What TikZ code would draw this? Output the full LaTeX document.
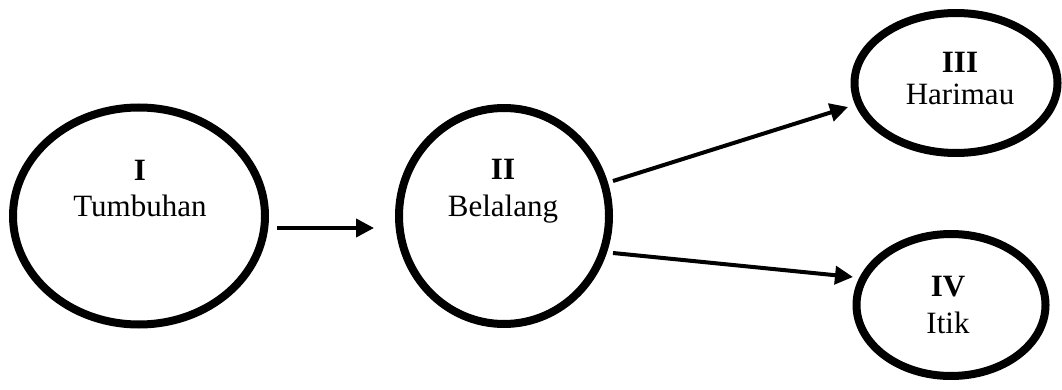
\documentclass[tikz,border=0pt]{standalone}
\usepackage{fontspec}
\setmainfont{Liberation Serif}
\usetikzlibrary{arrows.meta,shapes.geometric}
\begin{document}
\begin{tikzpicture}[x=1pt,y=-1pt,
  oval/.style={draw=black,line width=8pt,ellipse,inner sep=0pt,outer sep=0pt},
  lbl/.style={anchor=base,inner sep=0pt,font=\fontsize{31}{35}\selectfont},
  num/.style={lbl,font=\fontsize{31}{35}\selectfont\bfseries},
  arr/.style={line width=4pt,-{Triangle[length=18pt,width=18pt]}}]
\useasboundingbox (0,0) rectangle (1062,390);
% ellipses
\node[oval,minimum width=252pt,minimum height=217pt] (a) at (139,216) {};
\node[oval,minimum width=210pt,minimum height=216pt] (b) at (504,216) {};
\node[oval,minimum width=203pt,minimum height=140pt] (c) at (956,83) {};
\node[oval,minimum width=189pt,minimum height=142pt] (d) at (951,305) {};
% labels
\node[num] (anum) at (140,181) {I};
\node[lbl] (aname) at (140,216) {Tumbuhan};
\node[num] (bnum) at (503,180) {II};
\node[lbl] (bname) at (503,216) {Belalang};
\node[num] (cnum) at (960,73) {III};
\node[lbl] (cname) at (960,105) {Harimau};
\node[num] (dnum) at (948,296) {IV};
\node[lbl] (dname) at (948,333) {Itik};
% arrow ends
\coordinate (ab1) at (277,228);
\coordinate (ab2) at (374,228);
\coordinate (bc1) at (613,181);
\coordinate (bc2) at (848,107);
\coordinate (bd1) at (613,253);
\coordinate (bd2) at (853,277);
\draw[arr] (ab1) -- (ab2);
\draw[arr] (bc1) -- (bc2);
\draw[arr] (bd1) -- (bd2);
\end{tikzpicture}
\end{document}
